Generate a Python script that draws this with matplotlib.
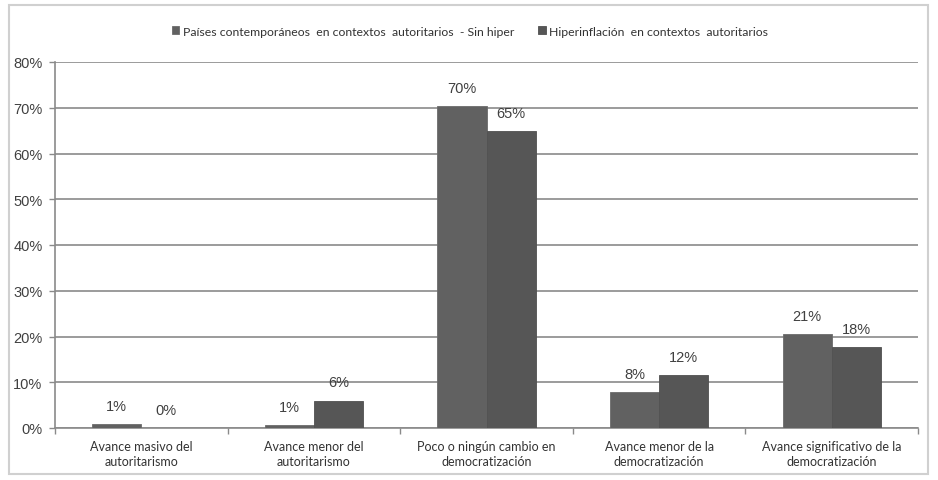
import numpy as np
import matplotlib.pyplot as plt
from matplotlib.patches import Rectangle

# datos (%)
categorias = [
    "Avance masivo del\nautoritarismo",
    "Avance menor del\nautoritarismo",
    "Poco o ningún cambio en\ndemocratización",
    "Avance menor de la\ndemocratización",
    "Avance significativo de la\ndemocratización",
]
serie_sin_hiper = [0.8, 0.6, 70.3, 7.8, 20.6]
serie_hiper = [0.0, 6.0, 64.9, 11.6, 17.6]
nombres = [
    "Países contemporáneos  en contextos  autoritarios  - Sin hiper",
    "Hiperinflación  en contextos  autoritarios",
]
yticks = [0, 10, 20, 30, 40, 50, 60, 70, 80]

COL1 = "#616161"
COL2 = "#565656"
GRID = "#8a8a8a"
TXT = "#404040"

fig = plt.figure(figsize=(9.38, 4.81), dpi=100)
ax = fig.add_axes([55 / 938, 1 - 429 / 481, (918 - 55) / 938, (429 - 63) / 481])

# marco exterior del gráfico
fig.patches.append(Rectangle((9 / 938, 1 - 475 / 481), 919 / 938, 469 / 481,
                             transform=fig.transFigure, fill=False,
                             edgecolor="#d0d0d0", linewidth=1.5))

x = np.arange(len(categorias))
w = 0.285
b1 = ax.bar(x - w / 2, serie_sin_hiper, w, color=COL1, edgecolor="#6c6c6c",
            linewidth=0.6, label=nombres[0], zorder=3)
b2 = ax.bar(x + w / 2, serie_hiper, w, color=COL2, edgecolor="#505050",
            linewidth=0.6, label=nombres[1], zorder=3)

for barras, vals in ((b1, serie_sin_hiper), (b2, serie_hiper)):
    for r, v in zip(barras, vals):
        ax.annotate(f"{round(v):d}%", (r.get_x() + r.get_width() / 2, v),
                    xytext=(0, 13), textcoords="offset points",
                    ha="center", va="center", fontsize=10.5,
                    family="Liberation Sans", color=TXT)

ax.set_xlim(-0.5, len(categorias) - 0.5)
ax.set_ylim(0, 80)
ax.set_yticks(yticks)
ax.set_yticklabels([f"{t}%" for t in yticks], fontsize=10.5,
                   family="Liberation Sans", color=TXT)
ax.yaxis.grid(True, color=GRID, linewidth=1.2, zorder=0)
ax.set_axisbelow(True)

# marcas del eje x entre categorías
ax.set_xticks(x)
ax.set_xticklabels(categorias, fontsize=9, family="Lato", color="#333333",
                   linespacing=1.25)
ax.tick_params(axis="x", length=0, pad=9)
ax.set_xticks(np.arange(len(categorias) + 1) - 0.5, minor=True)
ax.tick_params(axis="x", which="minor", length=4, color=GRID, width=1)
ax.tick_params(axis="y", length=4, color=GRID, width=1, pad=5)

for s in ("top", "right"):
    ax.spines[s].set_visible(False)
ax.spines["left"].set_color(GRID)
ax.spines["bottom"].set_color(GRID)
ax.spines["left"].set_linewidth(1.2)
ax.spines["bottom"].set_linewidth(1.2)

leg = fig.legend(loc="center", bbox_to_anchor=(470 / 938, 1 - 32 / 481), ncol=2,
                 frameon=False, handlelength=0.6, handleheight=0.6,
                 handletextpad=0.3, columnspacing=2.0,
                 prop={"family": "Lato", "size": 8.8})
for t in leg.get_texts():
    t.set_color("#333333")

fig.savefig("out.png", dpi=100)
